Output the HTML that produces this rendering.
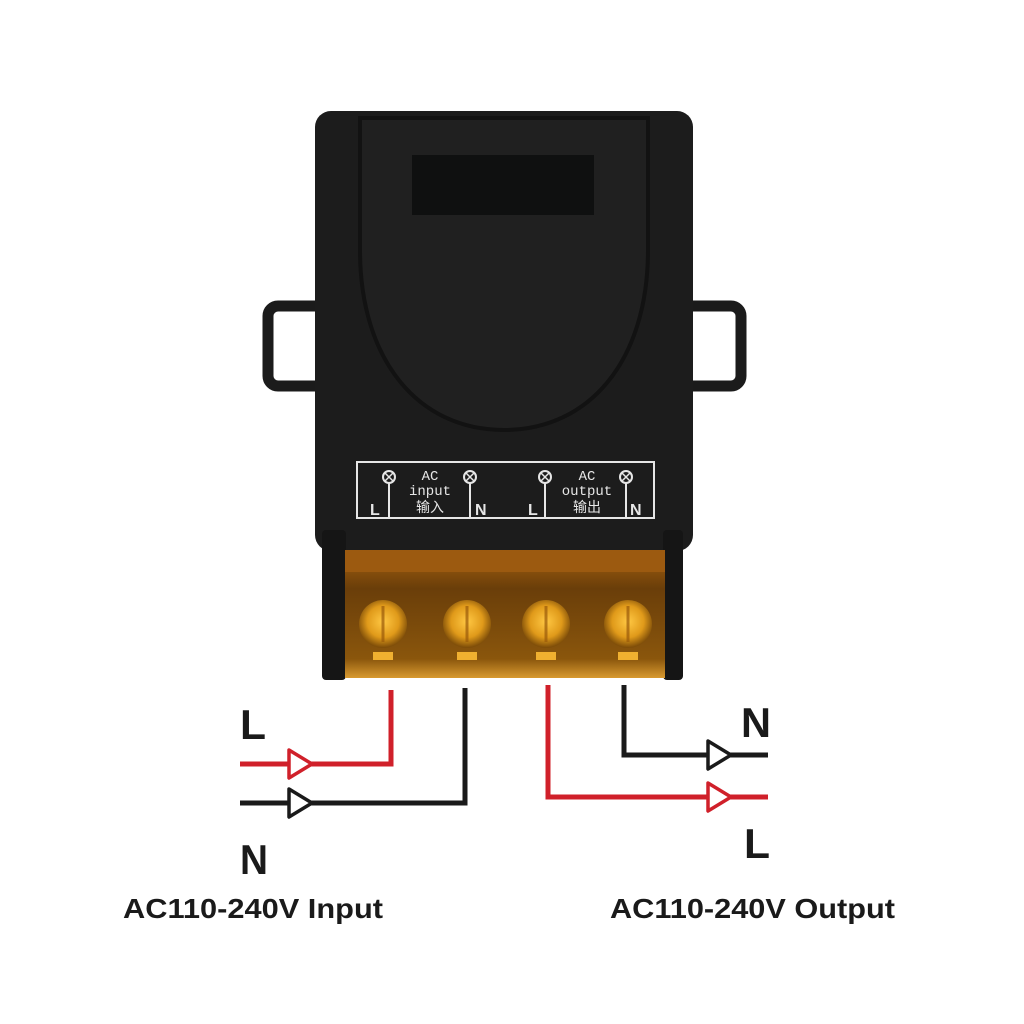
<!DOCTYPE html>
<html><head><meta charset="utf-8"><style>
html,body{margin:0;padding:0;background:#fff;width:1024px;height:1024px;overflow:hidden}
</style></head><body>
<svg width="1024" height="1024" viewBox="0 0 1024 1024" xmlns="http://www.w3.org/2000/svg">
<defs>
<radialGradient id="sc" cx="50%" cy="45%" r="55%">
<stop offset="0" stop-color="#ffc844"/><stop offset="0.6" stop-color="#e09a1a"/><stop offset="1" stop-color="#7a4a08"/>
</radialGradient>
<linearGradient id="og" x1="0" y1="0" x2="0" y2="1">
<stop offset="0" stop-color="#a8620e"/><stop offset="0.3" stop-color="#6a3e0a"/><stop offset="0.85" stop-color="#8a560c"/><stop offset="1" stop-color="#d89a30"/>
</linearGradient>
</defs>
<!-- ears -->
<rect x="268" y="306" width="60" height="80" rx="10" fill="none" stroke="#1b1b1b" stroke-width="11"/>
<rect x="681" y="306" width="60" height="80" rx="10" fill="none" stroke="#1b1b1b" stroke-width="11"/>
<!-- body -->
<rect x="315" y="111" width="378" height="440" rx="16" fill="#1c1c1c"/>
<path d="M360 118 L648 118 L648 250 C648 360 590 430 504 430 C418 430 360 360 360 250 Z" fill="#202020" stroke="#121212" stroke-width="4"/>
<rect x="412" y="155" width="182" height="60" fill="#0f1010"/>
<!-- label box -->
<rect x="357" y="462" width="297" height="56" fill="none" stroke="#e6e6e6" stroke-width="2"/>
<g stroke="#e6e6e6" stroke-width="2" fill="none">
<circle cx="389" cy="477" r="6"/><line x1="389" y1="483" x2="389" y2="518"/>
<circle cx="470" cy="477" r="6"/><line x1="470" y1="483" x2="470" y2="518"/>
<circle cx="545" cy="477" r="6"/><line x1="545" y1="483" x2="545" y2="518"/>
<circle cx="626" cy="477" r="6"/><line x1="626" y1="483" x2="626" y2="518"/>
</g>
<g stroke="#e6e6e6" stroke-width="1.5">
<path d="M385 473 L393 481 M393 473 L385 481 M466 473 L474 481 M474 473 L466 481 M541 473 L549 481 M549 473 L541 481 M622 473 L630 481 M630 473 L622 481"/>
</g>
<g fill="#e6e6e6" font-family="Liberation Sans, sans-serif" font-size="16" font-weight="bold">
<text x="370" y="515">L</text><text x="475" y="515">N</text><text x="528" y="515">L</text><text x="630" y="515">N</text>
</g>
<g fill="#e6e6e6" font-family="Liberation Mono, 'Noto Serif CJK SC', monospace" font-size="14" text-anchor="middle">
<text x="430" y="480">AC</text><text x="430" y="495">input</text><text x="430" y="512" font-family="'Noto Sans CJK SC', sans-serif" font-size="14">输入</text>
<text x="587" y="480">AC</text><text x="587" y="495">output</text><text x="587" y="512" font-family="'Noto Sans CJK SC', sans-serif" font-size="14">输出</text>
</g>
<!-- terminal block -->
<rect x="322" y="530" width="24" height="150" rx="4" fill="#151515"/>
<rect x="663" y="530" width="20" height="150" rx="4" fill="#151515"/>
<rect x="345" y="550" width="320" height="128" fill="url(#og)"/>
<rect x="345" y="550" width="320" height="22" fill="#9c5a10"/>
<g>
<circle cx="383" cy="624" r="24" fill="url(#sc)"/><rect x="373" y="652" width="20" height="8" fill="#f0b030"/>
<circle cx="467" cy="624" r="24" fill="url(#sc)"/><rect x="457" y="652" width="20" height="8" fill="#f0b030"/>
<circle cx="546" cy="624" r="24" fill="url(#sc)"/><rect x="536" y="652" width="20" height="8" fill="#f0b030"/>
<circle cx="628" cy="624" r="24" fill="url(#sc)"/><rect x="618" y="652" width="20" height="8" fill="#f0b030"/>
</g>
<g stroke="#9a5a0a" stroke-width="3" opacity="0.7">
<path d="M383 606 L383 642 M467 606 L467 642 M546 606 L546 642 M628 606 L628 642"/>
</g>
<!-- wires -->
<g fill="none" stroke-width="5">
<polyline points="240,764 391,764 391,690" stroke="#d0202a"/>
<polyline points="240,803 465,803 465,688" stroke="#1a1a1a"/>
<polyline points="548,685 548,797 768,797" stroke="#d0202a"/>
<polyline points="624,685 624,755 768,755" stroke="#1a1a1a"/>
</g>
<g stroke-width="3.5" fill="#fff" stroke-linejoin="round">
<path d="M289 750 L312 764 L289 778 Z" stroke="#d0202a"/>
<path d="M289 789 L312 803 L289 817 Z" stroke="#1a1a1a"/>
<path d="M708 741 L731 755 L708 769 Z" stroke="#1a1a1a"/>
<path d="M708 783 L731 797 L708 811 Z" stroke="#d0202a"/>
</g>
<g font-family="Liberation Sans, sans-serif" font-weight="bold" fill="#1a1a1a">
<text x="240" y="739" font-size="42" textLength="26" lengthAdjust="spacingAndGlyphs">L</text>
<text x="240" y="874" font-size="42" textLength="28" lengthAdjust="spacingAndGlyphs">N</text>
<text x="741" y="737" font-size="42" textLength="30" lengthAdjust="spacingAndGlyphs">N</text>
<text x="744" y="858" font-size="42" textLength="26" lengthAdjust="spacingAndGlyphs">L</text>
<text x="123" y="918" font-size="28" textLength="260" lengthAdjust="spacingAndGlyphs">AC110-240V Input</text>
<text x="610" y="918" font-size="28" textLength="285" lengthAdjust="spacingAndGlyphs">AC110-240V Output</text>
</g>
</svg>
</body></html>
